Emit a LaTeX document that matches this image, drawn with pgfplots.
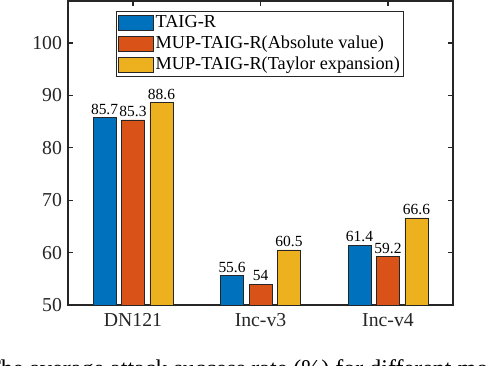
\documentclass[border=0pt]{standalone}
\usepackage{fontspec}
\setmainfont{Liberation Serif}
\usepackage{pgfplots}
\pgfplotsset{compat=1.18}
\definecolor{mblue}{rgb}{0,0.447,0.741}
\definecolor{morange}{rgb}{0.85,0.325,0.098}
\definecolor{myellow}{rgb}{0.929,0.694,0.125}
\definecolor{axgray}{rgb}{0.15,0.15,0.15}
\begin{document}
\begin{tikzpicture}
\begin{axis}[
  name=ax,
  scale only axis,
  width=288.75pt, height=228pt,
  ybar=4.1pt, bar width=17.25pt,
  xmin=-0.51, xmax=2.51,
  ymin=50, ymax=108,
  xtick={0,1,2},
  xticklabels={DN121,Inc-v3,Inc-v4},
  ytick={50,60,70,80,90,100},
  yticklabels={50,60,70,80,90,100},
  tick align=inside,
  xtick pos=both, ytick pos=both,
  major tick length=3.75pt,
  axis line style={axgray, line width=1pt},
  every tick/.style={axgray, line width=1pt},
  ticklabel style={font=\fontsize{14.8}{17}\selectfont, text=axgray},
  yticklabel style={xshift=-1pt},
  xticklabel style={yshift=-3pt},
  /pgf/number format/assume math mode=true,
  nodes near coords,
  every node near coord/.append style={font=\fontsize{11.6}{13}\selectfont, text=black, inner sep=0pt, yshift=2pt},
  legend style={at={(0.125,0.967)}, anchor=north west,
    draw=axgray, line width=1pt,
    font=\fontsize{13.7}{15}\selectfont,
    nodes={inner sep=1.5pt, text height=9.5pt, text depth=3pt},
    row sep=0pt, inner sep=1pt},
  legend cell align=left,
  legend image code/.code={\draw[#1, line width=0.6pt] (0pt,-5.6pt) rectangle (26pt,5.6pt);},
]
\addplot[fill=mblue, draw=axgray, line width=0.6pt] coordinates {(0,85.7) (1,55.6) (2,61.4)};
\addlegendentry{TAIG-R}
\addplot[fill=morange, draw=axgray, line width=0.6pt] coordinates {(0,85.3) (1,54) (2,59.2)};
\addlegendentry{MUP-TAIG-R(Absolute value)}
\addplot[fill=myellow, draw=axgray, line width=0.6pt] coordinates {(0,88.6) (1,60.5) (2,66.6)};
\addlegendentry{MUP-TAIG-R(Taylor expansion)}
\end{axis}
\node[anchor=base west, font=\fontsize{18}{20}\selectfont, inner sep=0pt]
  at ([xshift=-61.5pt,yshift=-53.5pt]ax.south west) {The average attack success rate (\%) for different models};
\pgfresetboundingbox
\path[use as bounding box] ([xshift=-51pt,yshift=-45.75pt]ax.south west) rectangle ([xshift=26.25pt,yshift=0.75pt]ax.north east);
\end{tikzpicture}
\end{document}
